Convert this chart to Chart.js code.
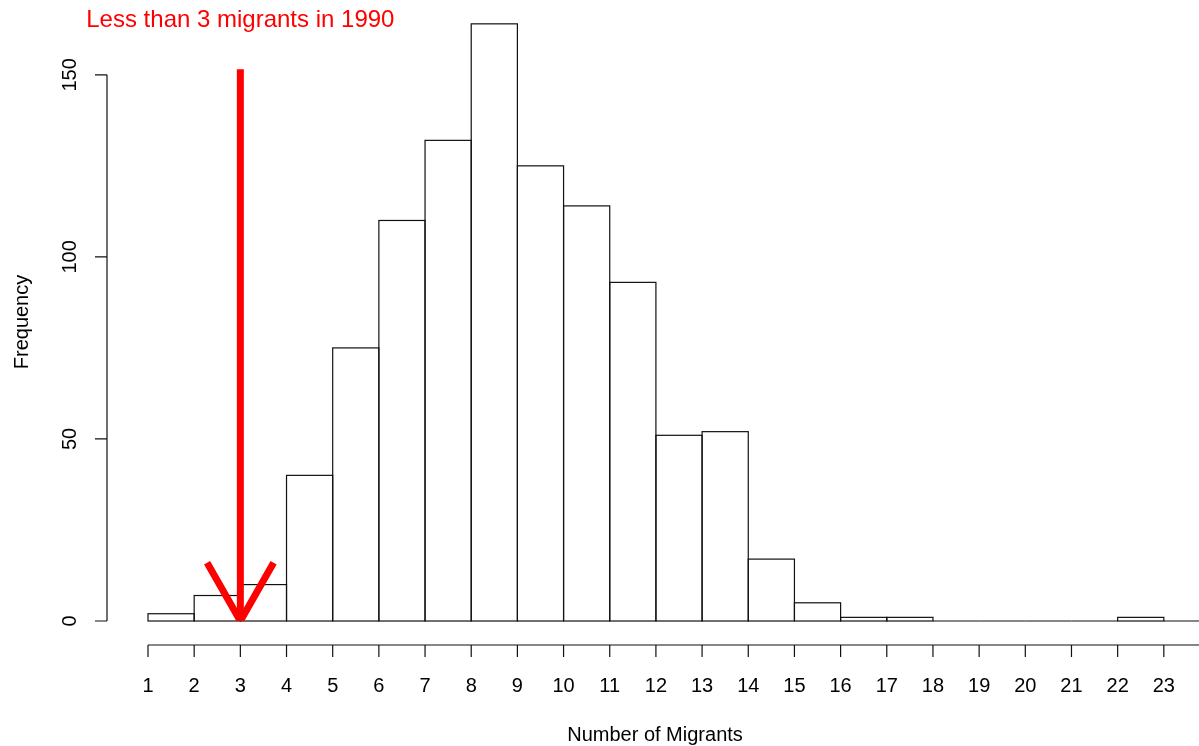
<!DOCTYPE html>
<html>
<head>
<meta charset="utf-8">
<title>Number of Migrants</title>
<script src="https://cdn.jsdelivr.net/npm/chart.js@4.4.1/dist/chart.umd.min.js"></script>
<style>
  html, body { margin: 0; padding: 0; background: #fff; overflow: hidden; }
  #wrap { width: 1199px; height: 746px; overflow: hidden; }
  canvas { display: block; }
</style>
</head>
<body>
<div id="wrap"><canvas id="hist" width="1210" height="746"></canvas></div>
<script>
// --- DATA ---
// histogram bins [start, start + 1)
const binStarts = [1, 2, 3, 4, 5, 6, 7, 8, 9, 10, 11, 12, 13, 14, 15, 16, 17, 18, 19, 20, 21, 22, 23];
const counts    = [2, 7, 10, 40, 75, 110, 132, 164, 125, 114, 93, 51, 52, 17, 5, 1, 1, 0, 0, 0, 0, 1, 0];
const xTicks = [1, 2, 3, 4, 5, 6, 7, 8, 9, 10, 11, 12, 13, 14, 15, 16, 17, 18, 19, 20, 21, 22, 23];
const yTicks = [0, 50, 100, 150];

// annotation: arrow down onto 3 migrants
const noteText = 'Less than 3 migrants in 1990';
const notePos = { x: 3, y: 165 };
const arrowShaft = [{ x: 3, y: 151.5 }, { x: 3, y: 0 }];
const arrowHead  = [{ x: 2.28, y: 16 }, { x: 3, y: 0 }, { x: 3.72, y: 16 }];

const FONT = '"Liberation Sans", Arial, Helvetica, sans-serif';
const RED = '#ff0000';

// R-style outlines: each bin stroked as its own rectangle so shared edges stay 1px
const histOutline = {
    id: 'histOutline',
    afterDatasetDraw(chart, args) {
        if (args.meta.type !== 'bar') return;
        const ctx = chart.ctx;
        ctx.save();
        ctx.strokeStyle = '#111';
        ctx.lineWidth = 1.2;
        args.meta.data.forEach(bar => {
            const p = bar.getProps(['x', 'y', 'base', 'width'], true);
            ctx.strokeRect(p.x - p.width / 2, p.y, p.width, p.base - p.y);
        });
        ctx.restore();
    }
};

// detached axes, titles and the red note
const rAxes = {
    id: 'rAxes',
    afterDraw(chart) {
        const { ctx, chartArea, scales } = chart;
        const xs = scales.x, ys = scales.y;
        const axisX = chartArea.left - 41;
        const axisY = chartArea.bottom + 24;
        const tick = 12;

        ctx.save();
        ctx.strokeStyle = '#111';
        ctx.fillStyle = '#000';
        ctx.lineWidth = 1.2;

        // y axis
        const y0 = ys.getPixelForValue(yTicks[0]);
        const y1 = ys.getPixelForValue(yTicks[yTicks.length - 1]);
        ctx.beginPath();
        ctx.moveTo(axisX, y0);
        ctx.lineTo(axisX, y1);
        yTicks.forEach(v => {
            const py = ys.getPixelForValue(v);
            ctx.moveTo(axisX - tick, py);
            ctx.lineTo(axisX, py);
        });
        // x axis
        ctx.moveTo(xs.getPixelForValue(xTicks[0]), axisY);
        ctx.lineTo(xs.getPixelForValue(24), axisY);
        xTicks.forEach(v => {
            const px = xs.getPixelForValue(v);
            ctx.moveTo(px, axisY);
            ctx.lineTo(px, axisY + tick);
        });
        ctx.stroke();

        // tick labels
        ctx.font = '20px ' + FONT;
        ctx.textAlign = 'center';
        ctx.textBaseline = 'middle';
        xTicks.forEach(v => {
            ctx.fillText(String(v), xs.getPixelForValue(v), axisY + 41);
        });
        yTicks.forEach(v => {
            ctx.save();
            ctx.translate(axisX - 37, ys.getPixelForValue(v));
            ctx.rotate(-Math.PI / 2);
            ctx.fillText(String(v), 0, 0);
            ctx.restore();
        });

        // axis titles
        ctx.fillText('Number of Migrants', 655, 735);
        ctx.save();
        ctx.translate(22, 322);
        ctx.rotate(-Math.PI / 2);
        ctx.fillText('Frequency', 0, 0);
        ctx.restore();

        // note
        ctx.fillStyle = RED;
        ctx.font = '24px ' + FONT;
        ctx.fillText(noteText, xs.getPixelForValue(notePos.x), ys.getPixelForValue(notePos.y));
        ctx.restore();
    }
};

new Chart(document.getElementById('hist'), {
    type: 'bar',
    data: {
        datasets: [
            {
                type: 'bar',
                data: binStarts.map((s, i) => ({ x: s + 0.5, y: counts[i] })),
                backgroundColor: '#ffffff',
                borderWidth: 0,
                barPercentage: 1,
                categoryPercentage: 1,
                order: 2
            },
            {
                type: 'line',
                data: arrowShaft,
                borderColor: RED,
                borderWidth: 7,
                borderCapStyle: 'butt',
                pointRadius: 0,
                fill: false,
                order: 1
            },
            {
                type: 'line',
                data: arrowHead,
                borderColor: RED,
                borderWidth: 7,
                borderCapStyle: 'butt',
                borderJoinStyle: 'miter',
                pointRadius: 0,
                fill: false,
                order: 1
            }
        ]
    },
    options: {
        responsive: false,
        animation: false,
        layout: { padding: { left: 148, right: 0, top: 2, bottom: 125 } },
        plugins: { legend: { display: false }, tooltip: { enabled: false } },
        scales: {
            x: { type: 'linear', min: 1, max: 24, offset: false, display: false },
            y: { type: 'linear', min: 0, max: 170, display: false }
        }
    },
    plugins: [histOutline, rAxes]
});
</script>
</body>
</html>
